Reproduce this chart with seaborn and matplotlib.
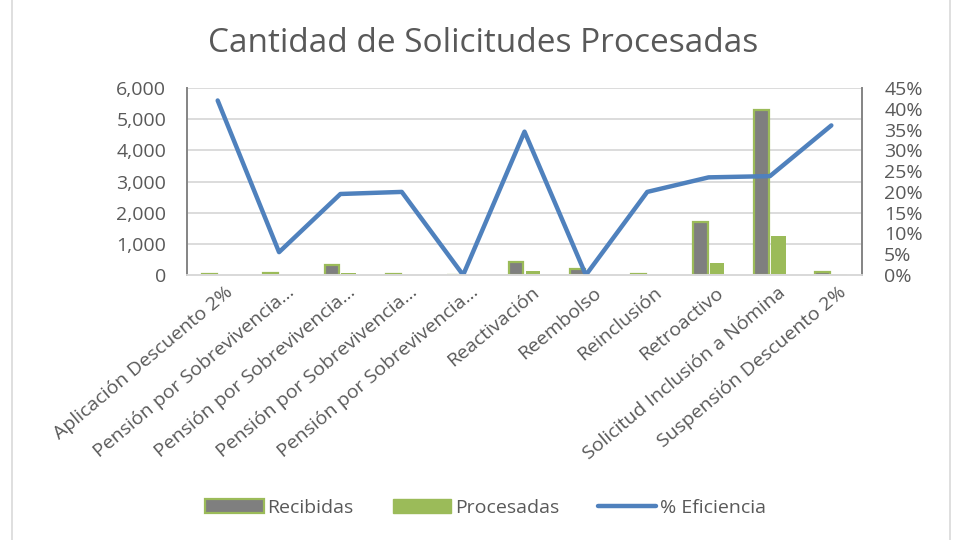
import matplotlib
matplotlib.use("Agg")
import matplotlib.pyplot as plt
import seaborn as sns
import pandas as pd
from matplotlib.ticker import FuncFormatter, PercentFormatter
from matplotlib.patches import Patch
from matplotlib.lines import Line2D
from matplotlib.transforms import ScaledTranslation

categorias = [
    "Aplicación Descuento 2%",
    "Pensión por Sobrevivencia...",
    "Pensión por Sobrevivencia...",
    "Pensión por Sobrevivencia...",
    "Pensión por Sobrevivencia...",
    "Reactivación",
    "Reembolso",
    "Reinclusión",
    "Retroactivo",
    "Solicitud Inclusión a Nómina",
    "Suspensión Descuento 2%",
]
recibidas = [30, 55, 320, 30, 3, 420, 190, 25, 1700, 5300, 100]
procesadas = [13, 3, 62, 6, 0, 145, 0, 5, 400, 1260, 36]
eficiencia = [0.42, 0.055, 0.195, 0.20, 0.0, 0.345, 0.0, 0.20, 0.235, 0.238, 0.36]

sns.set_theme(style="white")
plt.rcParams["font.family"] = ["Open Sans", "DejaVu Sans"]

GRAY_TXT = "#595959"
C_REC = "#7f7f7f"
C_PROC = "#9bbb59"
C_LINE = "#4f81bd"

# unique x keys so duplicate labels stay separate
keys = [f"c{i}" for i in range(len(categorias))]
df = pd.DataFrame({
    "key": keys * 2,
    "valor": recibidas + procesadas,
    "serie": ["Recibidas"] * len(keys) + ["Procesadas"] * len(keys),
})
df_line = pd.DataFrame({"key": keys, "ef": eficiencia})

fig = plt.figure(figsize=(9.56, 5.40), dpi=100)
ax = fig.add_axes([0.1956, 0.4907, 0.7061, 0.3463])

sns.barplot(data=df, x="key", y="valor", hue="serie", order=keys,
            hue_order=["Recibidas", "Procesadas"],
            palette={"Recibidas": C_REC, "Procesadas": C_PROC},
            width=0.55, gap=0.12, ax=ax, legend=False, saturation=1)
for bar in ax.containers[0]:
    bar.set_edgecolor(C_PROC)
    bar.set_linewidth(1.6)
for bar in ax.containers[1]:
    bar.set_linewidth(0)

ax.set_ylim(0, 6000)
ax.set_yticks(range(0, 6001, 1000))
ax.yaxis.set_major_formatter(FuncFormatter(lambda v, p: f"{int(v):,}"))
ax.grid(axis="y", color="#d9d9d9", linewidth=1.3)
ax.set_axisbelow(True)
ax.set_xlim(-0.5, len(keys) - 0.5)

ax2 = ax.twinx()
sns.lineplot(data=df_line, x="key", y="ef", sort=False, color=C_LINE,
             linewidth=3.2, ax=ax2, legend=False)
ax2.set_ylim(0, 0.45)
ax2.set_yticks([i * 0.05 for i in range(10)])
ax2.yaxis.set_major_formatter(PercentFormatter(1.0, decimals=0))
ax2.set_xlim(-0.5, len(keys) - 0.5)

for a in (ax, ax2):
    a.set_xlabel("")
    a.set_ylabel("")
    a.spines["top"].set_visible(False)
    a.spines["bottom"].set_color("#d9d9d9")
    a.spines["bottom"].set_linewidth(1.3)
    a.spines["left"].set_color("#868686")
    a.spines["right"].set_color("#868686")
    a.spines["left"].set_linewidth(1.3)
    a.spines["right"].set_linewidth(1.3)
    a.tick_params(axis="y", labelsize=14, colors=GRAY_TXT, length=0)

ax.tick_params(axis="y", pad=15)
ax2.tick_params(axis="y", pad=16)
ax.set_xticks(range(len(keys)))
ax.set_xticklabels(categorias, rotation=40, ha="right", rotation_mode="anchor",
                   fontsize=14, color=GRAY_TXT)
ax.tick_params(axis="x", length=0, pad=6)
shift = ScaledTranslation(7 / 100, 0, fig.dpi_scale_trans)
for lbl in ax.get_xticklabels():
    lbl.set_transform(lbl.get_transform() + shift)

fig.text(0.505, 0.92, "Cantidad de Solicitudes Procesadas", ha="center",
         va="center", fontsize=24, color=GRAY_TXT)

handles = [
    Patch(facecolor=C_REC, edgecolor=C_PROC, linewidth=1.6, label="Recibidas"),
    Patch(facecolor=C_PROC, edgecolor=C_PROC, label="Procesadas"),
    Line2D([0], [0], color=C_LINE, linewidth=3.2, label="% Eficiencia"),
]
leg = fig.legend(handles=handles, loc="center", bbox_to_anchor=(0.508, 0.06),
                 ncol=3, frameon=False, fontsize=14, handlelength=3.0,
                 handleheight=0.8, handletextpad=0.2, columnspacing=2.0)
for t in leg.get_texts():
    t.set_color(GRAY_TXT)

# outer chart border
fig.add_artist(Line2D([0.013, 0.013], [0, 1], color="#d9d9d9", linewidth=1.2,
                      transform=fig.transFigure))
fig.add_artist(Line2D([0.994, 0.994], [0, 1], color="#d9d9d9", linewidth=1.2,
                      transform=fig.transFigure))

fig.savefig("out.png", dpi=100)
